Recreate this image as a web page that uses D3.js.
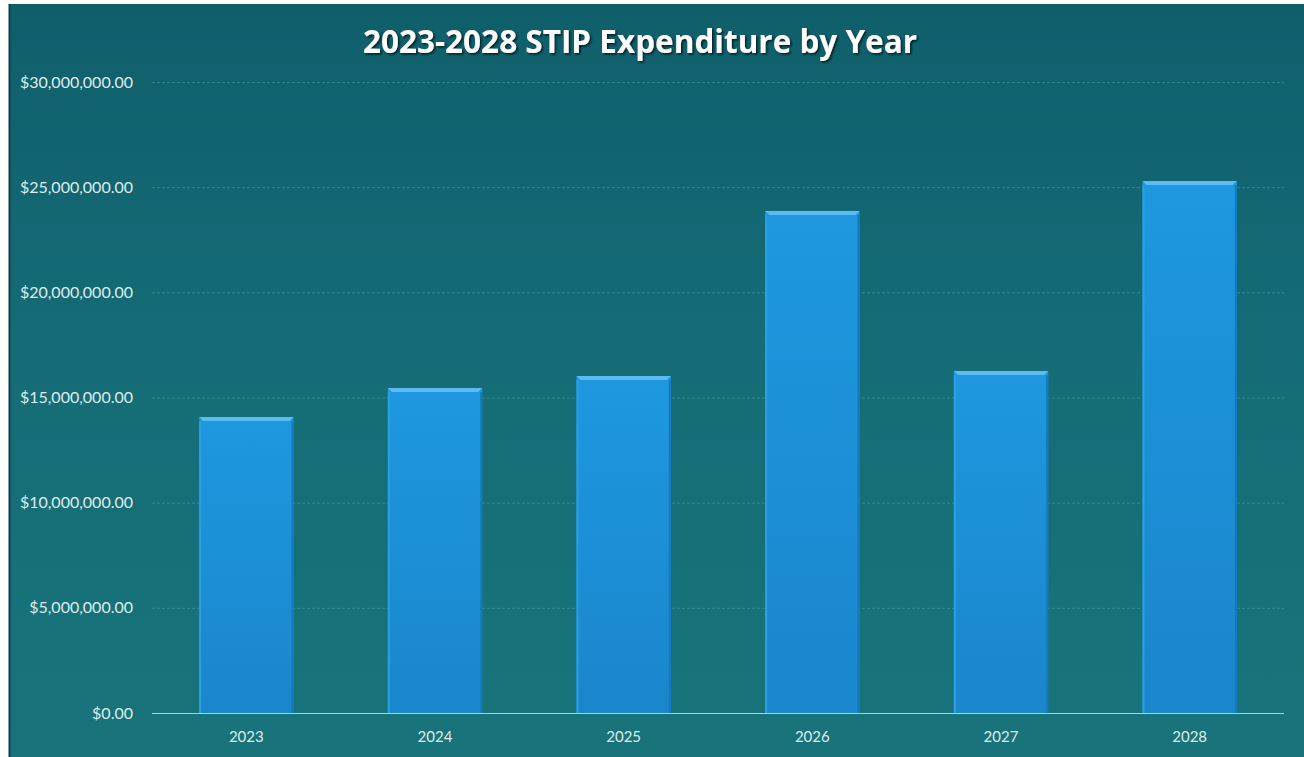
<!DOCTYPE html>
<html>
<head>
<meta charset="utf-8">
<script src="https://cdn.jsdelivr.net/npm/d3@7"></script>
<style>
  html, body { margin: 0; padding: 0; background: #ffffff; }
  svg { display: block; }
</style>
</head>
<body>
<svg id="chart" width="1304" height="757"></svg>
<script>
const years = ["2023", "2024", "2025", "2026", "2027", "2028"];
const expenditure = [14070000, 15450000, 16020000, 23870000, 16260000, 25290000];
const yTicks = [0, 5000000, 10000000, 15000000, 20000000, 25000000, 30000000];
const title = "2023-2028 STIP Expenditure by Year";

const width = 1304, height = 757;
const margin = { top: 82, right: 20, bottom: 44, left: 152 };

const svg = d3.select("#chart");
const defs = svg.append("defs");

const bg = defs.append("linearGradient").attr("id", "bg").attr("x1", 0).attr("y1", 0).attr("x2", 0).attr("y2", 1);
bg.append("stop").attr("offset", "0%").attr("stop-color", "#0f5f6b");
bg.append("stop").attr("offset", "45%").attr("stop-color", "#156c76");
bg.append("stop").attr("offset", "100%").attr("stop-color", "#18747a");

const barGrad = defs.append("linearGradient").attr("id", "bar").attr("x1", 0).attr("y1", 0).attr("x2", 0).attr("y2", 1);
barGrad.append("stop").attr("offset", "0%").attr("stop-color", "#1e98e0");
barGrad.append("stop").attr("offset", "100%").attr("stop-color", "#1a86cc");

const shadow = defs.append("filter").attr("id", "shadow").attr("x", "-5%").attr("y", "-20%").attr("width", "110%").attr("height", "150%");
shadow.append("feDropShadow").attr("dx", 1.5).attr("dy", 1.5).attr("stdDeviation", 1.2).attr("flood-color", "#000").attr("flood-opacity", 0.7);

// frame
svg.append("rect").attr("x", 0).attr("y", 0).attr("width", width).attr("height", height).attr("fill", "#ffffff");
svg.append("rect").attr("x", 9).attr("y", 4).attr("width", width - 9).attr("height", height - 4)
  .attr("fill", "url(#bg)");
svg.append("line").attr("x1", 9.5).attr("x2", 9.5).attr("y1", 4).attr("y2", height)
  .attr("stroke", "#0a3f4d").attr("stroke-width", 2);

const x = d3.scaleBand()
  .domain(years)
  .range([margin.left, width - margin.right])
  .paddingInner(0.5)
  .paddingOuter(0.25);

const y = d3.scaleLinear()
  .domain([0, 30000000])
  .range([height - margin.bottom, margin.top]);

// gridlines
svg.append("g")
  .selectAll("line")
  .data(yTicks.filter(d => d > 0))
  .join("line")
  .attr("x1", margin.left)
  .attr("x2", width - margin.right)
  .attr("y1", d => y(d) + 0.5)
  .attr("y2", d => y(d) + 0.5)
  .attr("stroke", "#3f95a0")
  .attr("stroke-width", 1)
  .attr("stroke-dasharray", "3,2")
  .attr("opacity", 0.7);

// y axis labels
const fmt = d3.format("$,.2f");
svg.append("g")
  .selectAll("text")
  .data(yTicks)
  .join("text")
  .attr("x", 133)
  .attr("y", d => y(d))
  .attr("dy", "0.35em")
  .attr("text-anchor", "end")
  .attr("font-family", "Lato, 'Open Sans', sans-serif")
  .attr("font-size", 16)
  .attr("fill", "#dfeced")
  .text(d => fmt(d));

// bars
const bars = svg.append("g")
  .selectAll("g")
  .data(years.map((yr, i) => ({ year: yr, value: expenditure[i] })))
  .join("g");

bars.append("rect")
  .attr("x", d => x(d.year))
  .attr("y", d => y(d.value))
  .attr("width", x.bandwidth())
  .attr("height", d => y(0) - y(d.value))
  .attr("fill", "url(#bar)");

// bevel highlight on top edge
bars.append("path")
  .attr("d", d => {
    const x0 = x(d.year), x1 = x0 + x.bandwidth(), t = y(d.value);
    return `M${x0},${t}L${x1},${t}L${x1 - 4},${t + 4}L${x0 + 4},${t + 4}Z`;
  })
  .attr("fill", "#5cbbef");

// side shading
bars.append("rect")
  .attr("x", d => x(d.year))
  .attr("y", d => y(d.value) + 4)
  .attr("width", 2)
  .attr("height", d => y(0) - y(d.value) - 4)
  .attr("fill", "#2aa0e6");
bars.append("rect")
  .attr("x", d => x(d.year) + x.bandwidth() - 2)
  .attr("y", d => y(d.value) + 4)
  .attr("width", 2)
  .attr("height", d => y(0) - y(d.value) - 4)
  .attr("fill", "#1679bd");

// baseline
svg.append("line")
  .attr("x1", margin.left)
  .attr("x2", width - margin.right)
  .attr("y1", y(0) + 0.5)
  .attr("y2", y(0) + 0.5)
  .attr("stroke", "#a9d3da")
  .attr("stroke-width", 1.2);

// x labels
svg.append("g")
  .selectAll("text")
  .data(years)
  .join("text")
  .attr("x", d => x(d) + x.bandwidth() / 2)
  .attr("y", y(0) + 29)
  .attr("text-anchor", "middle")
  .attr("font-family", "Lato, 'Open Sans', sans-serif")
  .attr("font-size", 15)
  .attr("fill", "#dfeced")
  .text(d => d);

// title
svg.append("text")
  .attr("x", 640)
  .attr("y", 53)
  .attr("text-anchor", "middle")
  .attr("font-family", "'Open Sans', 'Noto Sans', sans-serif")
  .attr("font-weight", "bold")
  .attr("font-size", 31.5)
  .attr("fill", "#ffffff")
  .attr("filter", "url(#shadow)")
  .text(title);
</script>
</body>
</html>
